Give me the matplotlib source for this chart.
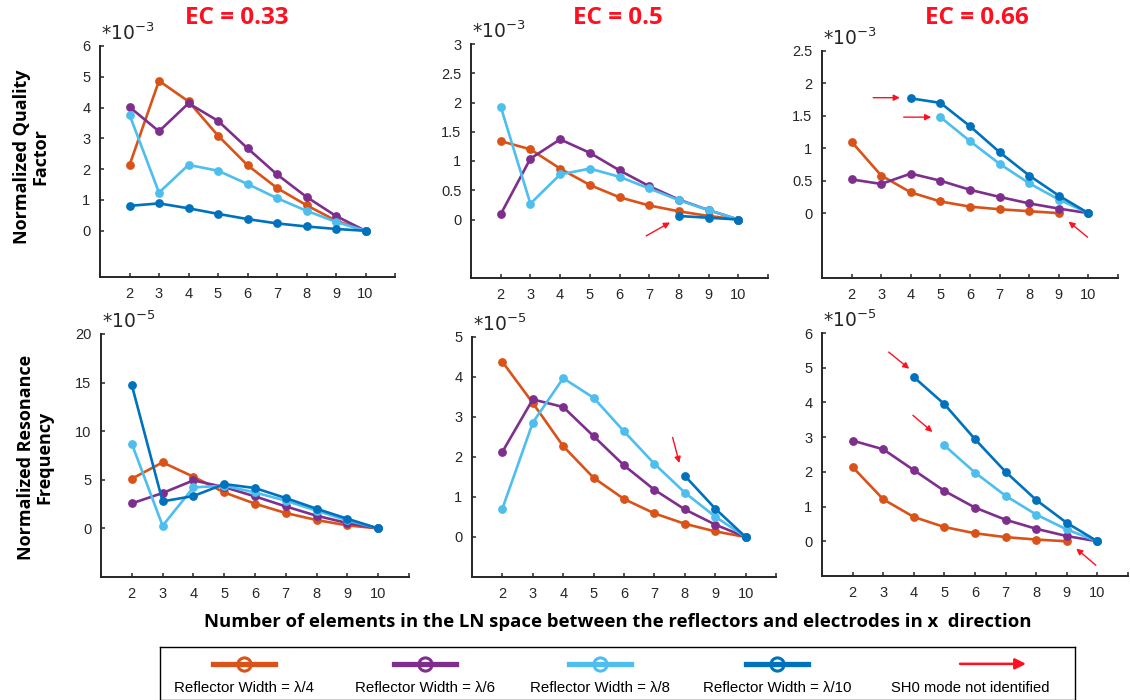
import numpy as np
import matplotlib; matplotlib.use("Agg")
import matplotlib.pyplot as plt
from matplotlib.lines import Line2D

plt.rcParams["mathtext.default"] = "regular"

nan = np.nan
X = [2, 3, 4, 5, 6, 7, 8, 9, 10]
EC_TITLES = ["EC = 0.33", "EC = 0.5", "EC = 0.66"]
WIDTH_LABELS = ["Reflector Width = λ/4", "Reflector Width = λ/6",
                "Reflector Width = λ/8", "Reflector Width = λ/10"]
COLORS = ["#D95319", "#7E2F8E", "#4DBEEE", "#0072BD"]
RED = "#ff1020"
INK = "#262626"

# normalized quality factor (x 1e-3)
q033_l4 = [2.13, 4.87, 4.20, 3.09, 2.13, 1.39, 0.83, 0.33, 0.0]
q033_l6 = [4.02, 3.23, 4.14, 3.57, 2.68, 1.83, 1.10, 0.48, 0.0]
q033_l8 = [3.77, 1.24, 2.14, 1.95, 1.52, 1.06, 0.65, 0.29, 0.0]
q033_l10 = [0.81, 0.89, 0.73, 0.55, 0.38, 0.24, 0.14, 0.06, 0.0]

q05_l4 = [1.34, 1.20, 0.87, 0.59, 0.38, 0.24, 0.14, 0.06, 0.0]
q05_l6 = [0.09, 1.04, 1.37, 1.14, 0.84, 0.57, 0.34, 0.16, 0.0]
q05_l8 = [1.93, 0.27, 0.77, 0.87, 0.73, 0.53, 0.33, 0.16, 0.0]
q05_l10 = [nan, nan, nan, nan, nan, nan, 0.06, 0.03, 0.0]

q066_l4 = [1.10, 0.58, 0.32, 0.18, 0.10, 0.06, 0.03, 0.0, nan]
q066_l6 = [0.52, 0.45, 0.61, 0.50, 0.36, 0.25, 0.15, 0.07, 0.0]
q066_l8 = [nan, nan, nan, 1.48, 1.11, 0.76, 0.46, 0.21, 0.0]
q066_l10 = [nan, nan, 1.77, 1.70, 1.34, 0.94, 0.58, 0.27, 0.0]

# normalized resonance frequency (x 1e-5)
f033_l4 = [5.11, 6.79, 5.32, 3.70, 2.54, 1.58, 0.86, 0.31, 0.0]
f033_l6 = [2.57, 3.64, 4.94, 4.25, 3.29, 2.26, 1.30, 0.55, 0.0]
f033_l8 = [8.71, 0.27, 4.22, 4.39, 3.70, 2.85, 1.82, 0.82, 0.0]
f033_l10 = [14.75, 2.78, 3.33, 4.56, 4.15, 3.12, 2.02, 0.99, 0.0]

f05_l4 = [4.38, 3.35, 2.27, 1.48, 0.95, 0.59, 0.33, 0.14, 0.0]
f05_l6 = [2.13, 3.44, 3.25, 2.52, 1.79, 1.18, 0.69, 0.31, 0.0]
f05_l8 = [0.71, 2.86, 3.97, 3.48, 2.64, 1.83, 1.11, 0.51, 0.0]
f05_l10 = [nan, nan, nan, nan, nan, nan, 1.53, 0.71, 0.0]

f066_l4 = [2.14, 1.21, 0.70, 0.41, 0.23, 0.12, 0.05, 0.0, nan]
f066_l6 = [2.90, 2.65, 2.05, 1.45, 0.97, 0.62, 0.36, 0.15, 0.0]
f066_l8 = [nan, nan, nan, 2.76, 1.98, 1.31, 0.77, 0.34, 0.0]
f066_l10 = [nan, nan, 4.73, 3.95, 2.94, 2.00, 1.19, 0.53, 0.0]

# "SH0 mode not identified" arrows (tail, head) in data units
arr_q05 = [((6.9, -0.28), (7.7, -0.05))]
arr_q066 = [((2.73, 1.78), (3.63, 1.78)), ((3.76, 1.48), (4.69, 1.48)),
            ((9.97, -0.37), (9.33, -0.13))]
arr_f05 = [((7.6, 2.49), (7.82, 1.85))]
arr_f066 = [((3.18, 5.45), (3.85, 4.97)), ((3.97, 3.63), (4.61, 3.15)),
            ((9.95, -0.69), (9.31, -0.21))]

W, H = 1130, 700
fig = plt.figure(figsize=(W / 100, H / 100), dpi=100)

def px_axes(x0, x1, ytop, ybot):
    return fig.add_axes([x0 / W, 1 - ybot / H, (x1 - x0) / W, (ybot - ytop) / H])

panels = [
    # pixel box, series, ylim, yticks, exponent, arrows
    ((100, 395, 46, 277), [q033_l4, q033_l6, q033_l8, q033_l10], (-1.5, 6), [0, 1, 2, 3, 4, 5, 6], "-3", []),
    ((471, 768, 44, 278), [q05_l4, q05_l6, q05_l8, q05_l10], (-1, 3), [0, 0.5, 1, 1.5, 2, 2.5, 3], "-3", arr_q05),
    ((822, 1118, 51, 278), [q066_l4, q066_l6, q066_l8, q066_l10], (-1, 2.5), [0, 0.5, 1, 1.5, 2, 2.5], "-3", arr_q066),
    ((101, 409, 334, 577), [f033_l4, f033_l6, f033_l8, f033_l10], (-5, 20), [0, 5, 10, 15, 20], "-5", []),
    ((472, 776, 337, 577), [f05_l4, f05_l6, f05_l8, f05_l10], (-1, 5), [0, 1, 2, 3, 4, 5], "-5", arr_f05),
    ((822, 1128, 333, 576), [f066_l4, f066_l6, f066_l8, f066_l10], (-1, 6), [0, 1, 2, 3, 4, 5, 6], "-5", arr_f066),
]

for box, series, ylim, yticks, expo, arrows in panels:
    ax = px_axes(*box)
    for ys, c in zip(series, COLORS):
        ax.plot(X, ys, "-o", color=c, lw=1.9, ms=5.3)
    for tail, head in arrows:
        ax.annotate("", xy=head, xytext=tail,
                    arrowprops=dict(arrowstyle="-|>", color=RED, lw=1.0,
                                    mutation_scale=9, shrinkA=0, shrinkB=0))
    ax.set_xlim(1, 11); ax.set_ylim(*ylim)
    ax.set_xticks(range(1, 12))
    ax.set_xticklabels([""] + [str(v) for v in X] + [""])
    ax.set_yticks(yticks)
    ax.set_yticklabels([f"{v:g}" for v in yticks])
    for s in ("top", "right"):
        ax.spines[s].set_visible(False)
    for s in ("left", "bottom"):
        ax.spines[s].set_color(INK); ax.spines[s].set_linewidth(1.4)
    ax.tick_params(direction="in", length=3, width=1.1, color=INK, labelcolor=INK,
                   labelsize=10.5, pad=7)
    for t in ax.get_xticklabels() + ax.get_yticklabels():
        t.set_fontfamily("Liberation Sans")
    ax.annotate(r"*10$^{%s}$" % expo, xy=(0, 1), xycoords="axes fraction",
                xytext=(1, 4.5), textcoords="offset points", va="baseline",
                ha="left", fontsize=13.5, color=INK, family="DejaVu Sans")

for cx_, t in zip([237, 618, 977], EC_TITLES):
    fig.text(cx_ / W, 1 - 18.5 / H, t, ha="center", va="center", color=RED,
             fontsize=17.5, fontweight="bold", family="Open Sans")

fig.text(31 / W, 1 - 157 / H, "Normalized Quality\nFactor", rotation=90, ha="center",
         va="center", ma="center", fontsize=13, fontweight="bold", family="Open Sans",
         linespacing=1.05)
fig.text(35 / W, 1 - 457 / H, "Normalized Resonance\nFrequency", rotation=90, ha="center",
         va="center", ma="center", fontsize=13, fontweight="bold", family="Open Sans",
         linespacing=1.05)
fig.text(618 / W, 1 - 622 / H,
         "Number of elements in the LN space between the reflectors and electrodes in x  direction",
         ha="center", va="center", fontsize=13.3, fontweight="bold", family="Open Sans")

# legend box drawn by hand: handles above, labels below
lg = fig.add_axes([160 / W, 0.5 / H, 915 / W, 52.5 / H])
lg.set_xlim(160, 1075); lg.set_ylim(700, 647)
lg.set_xticks([]); lg.set_yticks([])
for s in lg.spines.values():
    s.set_linewidth(1.0); s.set_color("black")
for xc, c, lab in zip([244, 425, 600, 777], COLORS, WIDTH_LABELS):
    lg.add_line(Line2D([xc - 31, xc + 31], [664, 664], color=c, lw=3.8))
    lg.plot([xc], [664], "o", ms=9.5, mfc="none", mec=c, mew=2.2)
    lg.text(xc, 688, lab, ha="center", va="center", fontsize=10.8,
            family="Liberation Sans", color="black")
lg.annotate("", xy=(1026, 664), xytext=(960, 664),
            arrowprops=dict(arrowstyle="-|>", color=RED, lw=1.8, mutation_scale=16,
                            shrinkA=0, shrinkB=0))
lg.text(970, 688, "SH0 mode not identified", ha="center", va="center", fontsize=10.6,
        family="Liberation Sans", color="black")

fig.savefig("out.png", dpi=100)
